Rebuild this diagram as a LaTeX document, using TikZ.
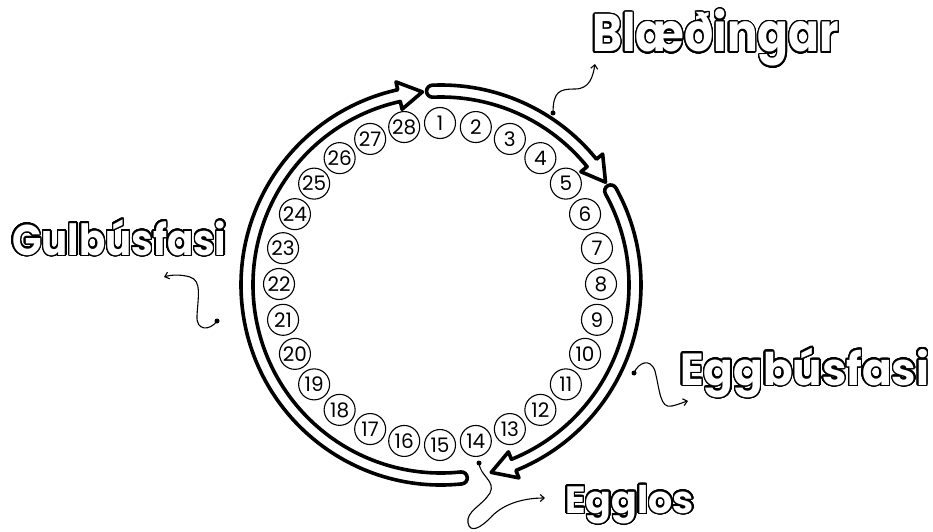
\documentclass[tikz,border=0pt]{standalone}
\usepackage{fontspec}
\setmainfont{Poppins}
\usepackage[copies]{contour}
\usetikzlibrary{arrows.meta}

\contourlength{1.5pt}
\contournumber{32}

% hollow arrow along the ring: start angle, tip angle
\newcommand{\phasearrow}[2]{%
  \pgfmathsetmacro{\headbase}{#2+7}%
  \draw[phaseband] (#1:200) arc[start angle=#1, end angle=\headbase, radius=200]
    -- (\headbase:208) -- (#2:194) -- (\headbase:180) -- (\headbase:188)
    arc[start angle=\headbase, end angle=#1, radius=188]
    arc[start angle=#1+180, end angle=#1, radius=6] -- cycle;}

\newcommand{\outlined}[2]{\scalebox{#1}[1]{\color{white}\contour{black}{#2}}}

\begin{document}
\begin{tikzpicture}[
    x=1pt, y=1pt,
    >={Straight Barb[length=4pt,width=7pt]},
    phaseband/.style={draw, line width=3.6, fill=white, line join=round},
    daycircle/.style={
        circle, draw, line width=1.1,
        minimum size=31, inner sep=0pt,
        font=\fontsize{20}{20}\selectfont
    },
    phaselabel/.style={
        font=\fontsize{#1}{#1}\selectfont\bfseries,
        inner sep=0pt, anchor=base west
    },
    pointer/.style={line width=1.1, ->},
    pointdot/.style={circle, fill, inner sep=0pt, minimum size=5}
]
\useasboundingbox (0,0) rectangle (933,531);

% ---------------------------------
% Ring of days
% ---------------------------------
\begin{scope}[shift={(441,246)}]
\phasearrow{92.5}{32}
\phasearrow{29}{-75}
\phasearrow{276}{95.5}
\end{scope}
\begin{scope}[shift={(440,247)}]
\foreach \n in {1,...,28}
    \node[daycircle] (day\n) at ({90-(\n-1)*360/28}:161) {\n};
\end{scope}

% ---------------------------------
% Phase labels
% ---------------------------------
\node[phaselabel=53] (blaed) at (592,479) {\outlined{0.86}{Blæðingar}};
\node[phaselabel=43] (gulbus) at (12,276) {\outlined{0.9}{Gulbúsfasi}};
\node[phaselabel=45] (eggbus) at (680,146) {\outlined{0.97}{Eggbúsfasi}};
\node[phaselabel=38] (egglos) at (565,18) {\outlined{1}{Egglos}};

% ---------------------------------
% Pointers
% ---------------------------------
\node[pointdot] (dotblaed) at (553,418) {};
\node[pointdot] (dotgulbus) at (217,210) {};
\node[pointdot] (doteggbus) at (634,158) {};
\node[pointdot] (dotegglos) at (479,68) {};
\coordinate (tipblaed) at (595,467);
\coordinate (tipgulbus) at (164,254);
\coordinate (tipeggbus) at (688,130);
\coordinate (tipegglos) at (545,33);

\draw[pointer] (dotblaed.center) .. controls (553,440) and (560,442) .. (575,442)
    .. controls (590,442) and (593,455) .. (tipblaed);
\draw[pointer] (dotgulbus.center) .. controls (210,200) and (196,200) .. (197,215)
    .. controls (198,235) and (202,250) .. (190,254)
    .. controls (180,257) and (170,256) .. (tipgulbus);
\draw[pointer] (doteggbus.center) .. controls (638,168) and (650,174) .. (655,160)
    .. controls (660,140) and (660,122) .. (672,125)
    .. controls (680,127) and (684,129) .. (tipeggbus);
\draw[pointer] (dotegglos.center) .. controls (480,55) and (496,50) .. (490,38)
    .. controls (482,25) and (466,20) .. (468,8)
    .. controls (470,-2) and (480,2) .. (492,15)
    .. controls (505,28) and (525,33) .. (tipegglos);

\end{tikzpicture}
\end{document}
